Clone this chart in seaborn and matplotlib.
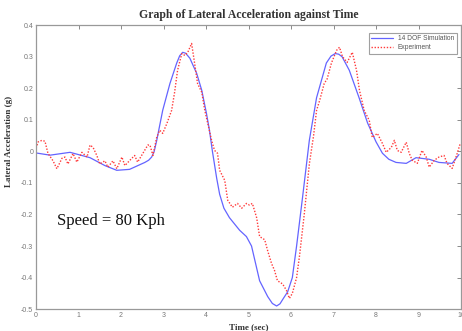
import matplotlib
matplotlib.use("Agg")
import matplotlib.pyplot as plt
import seaborn as sns

# 14 DOF simulation (sec, g)
sim_t = [0.00, 0.33, 0.80, 1.27, 1.62, 1.90, 2.20, 2.56, 2.65, 2.72, 2.78, 2.84, 2.98, 3.15,
         3.31, 3.38, 3.45, 3.52, 3.62, 3.78, 3.90, 4.01, 4.08, 4.15, 4.25, 4.32, 4.42, 4.55, 4.79, 4.95,
         5.07, 5.26, 5.45, 5.56, 5.66, 5.74, 5.80, 5.92, 6.03, 6.13, 6.27, 6.43, 6.60, 6.83, 6.94, 7.04,
         7.12, 7.20, 7.37, 7.60, 7.80, 8.00, 8.15, 8.30, 8.47, 8.71, 8.94, 9.25, 9.48, 9.79, 9.95]
sim_g = [-0.005, -0.012, -0.003, -0.02, -0.045, -0.06, -0.057, -0.035, -0.028, -0.018, 0.0, 0.035, 0.13, 0.215,
         0.28, 0.303, 0.314, 0.311, 0.295, 0.247, 0.193, 0.12, 0.067, 0.0, -0.085, -0.136, -0.18, -0.21, -0.25, -0.27,
         -0.30, -0.41, -0.46, -0.482, -0.49, -0.483, -0.47, -0.445, -0.40, -0.30, -0.146, 0.035, 0.17, 0.28, 0.302, 0.31,
         0.308, 0.30, 0.257, 0.17, 0.09, 0.03, -0.006, -0.025, -0.035, -0.038, -0.02, -0.025, -0.035, -0.038, -0.01]

# experiment (sec, g)
exp_t = [0.00, 0.05, 0.14, 0.21, 0.28, 0.40, 0.49, 0.61, 0.68, 0.75, 0.87, 0.96,
         1.08, 1.20, 1.27, 1.34, 1.43, 1.50, 1.62, 1.69, 1.81, 1.90, 2.02, 2.09,
         2.21, 2.32, 2.39, 2.51, 2.63, 2.68, 2.75, 2.84, 2.91, 2.98, 3.08, 3.19,
         3.26, 3.33, 3.43, 3.50, 3.57, 3.66, 3.73, 3.80, 3.90, 3.97, 4.04, 4.13,
         4.20, 4.27, 4.32, 4.44, 4.51, 4.62, 4.74, 4.84, 4.95, 5.02, 5.09, 5.19,
         5.26, 5.38, 5.45, 5.54, 5.61, 5.68, 5.80, 5.89, 5.96, 6.03, 6.13, 6.20,
         6.31, 6.43, 6.53, 6.60, 6.67, 6.78, 6.85, 6.95, 7.07, 7.14, 7.21, 7.32,
         7.44, 7.54, 7.61, 7.72, 7.84, 7.91, 8.03, 8.15, 8.24, 8.36, 8.43, 8.50,
         8.59, 8.71, 8.78, 8.85, 8.97, 9.08, 9.18, 9.25, 9.37, 9.48, 9.60, 9.67,
         9.79, 9.91, 9.98]
exp_g = [0.01, 0.03, 0.035, 0.032, -0.006, -0.03, -0.055, -0.022, -0.018, -0.04, -0.007, -0.034,
         -0.003, -0.018, 0.02, 0.013, -0.013, -0.04, -0.03, -0.05, -0.03, -0.055, -0.018, -0.045,
         -0.028, -0.013, -0.034, -0.007, 0.02, 0.02, -0.013, 0.045, 0.067, 0.057, 0.089, 0.13,
         0.187, 0.257, 0.31, 0.304, 0.314, 0.342, 0.28, 0.215, 0.187, 0.13, 0.089, 0.035,
         0.003, -0.006, -0.06, -0.092, -0.155, -0.177, -0.165, -0.18, -0.165, -0.17, -0.165, -0.21,
         -0.27, -0.28, -0.315, -0.355, -0.377, -0.41, -0.42, -0.44, -0.466, -0.45, -0.40, -0.33,
         -0.2, -0.04, 0.05, 0.13, 0.16, 0.215, 0.23, 0.28, 0.32, 0.33, 0.30, 0.282,
         0.314, 0.257, 0.193, 0.13, 0.098, 0.044, 0.057, 0.025, -0.003, 0.013, 0.035, 0.003,
         -0.003, 0.029, -0.006, -0.028, -0.038, 0.003, -0.018, -0.05, -0.028, -0.018, -0.013, -0.038,
         -0.054, -0.006, 0.025]

x_ticks = list(range(0, 11))
y_ticks = [0.4, 0.3, 0.2, 0.1, 0, -0.1, -0.2, -0.3, -0.4, -0.5]
y_tick_labels = ["0.4", "0.3", "0.2", "0.1", "0", "-0.1", "-0.2", "-0.3", "-0.4", "-0.5"]

sns.set_style("white")
plt.rcParams['font.family'] = ['Liberation Sans', 'DejaVu Sans']

fig = plt.figure(figsize=(4.62, 3.31), dpi=100)
ax = fig.add_axes([0.078, 0.066, 0.92, 0.858])

sns.lineplot(x=sim_t, y=sim_g, ax=ax, color='#6464ff', lw=0.9,
             sort=False, estimator=None, label='14 DOF Simulation')
sns.lineplot(x=exp_t, y=exp_g, ax=ax, color='#ff3a3a', lw=1.0, linestyle=(0, (1, 1.2)),
             sort=False, estimator=None, label='Experiment')

ax.set_xlim(0, 10)
ax.set_ylim(-0.5, 0.4)
ax.set_xticks(x_ticks)
ax.set_yticks(y_ticks)
ax.set_yticklabels(y_tick_labels)
ax.tick_params(direction='in', length=3, width=0.6, top=True, right=True,
               labelsize=5, colors='#777777', pad=2)
for sp in ax.spines.values():
    sp.set_color('#999999')
    sp.set_linewidth(0.9)

ax.set_title('Graph of Lateral Acceleration against Time', family='Liberation Serif',
             fontweight='bold', fontsize=8.5, color='#333333', pad=5)
ax.set_xlabel('Time (sec)', family='Liberation Serif', fontweight='bold',
              fontsize=6.5, color='#333333', labelpad=3)
ax.set_ylabel('Lateral Acceleration (g)', family='Liberation Serif', fontweight='bold',
              fontsize=6.5, color='#333333', labelpad=8)
ax.yaxis.set_label_coords(-0.055, 0.59)

ax.text(0.5, -0.222, 'Speed = 80 Kph', family='Liberation Serif', fontsize=12,
        color='#111111', va='center', ha='left')

leg = ax.legend(loc='upper right', bbox_to_anchor=(0.998, 0.985), fontsize=4.8,
                frameon=True, fancybox=False, handlelength=3.2, borderpad=0.4,
                labelspacing=0.3, handletextpad=0.8)
leg.get_frame().set_edgecolor('#888888')
leg.get_frame().set_linewidth(0.8)
for t in leg.get_texts():
    t.set_color('#555555')

fig.savefig('out.png', dpi=100)
